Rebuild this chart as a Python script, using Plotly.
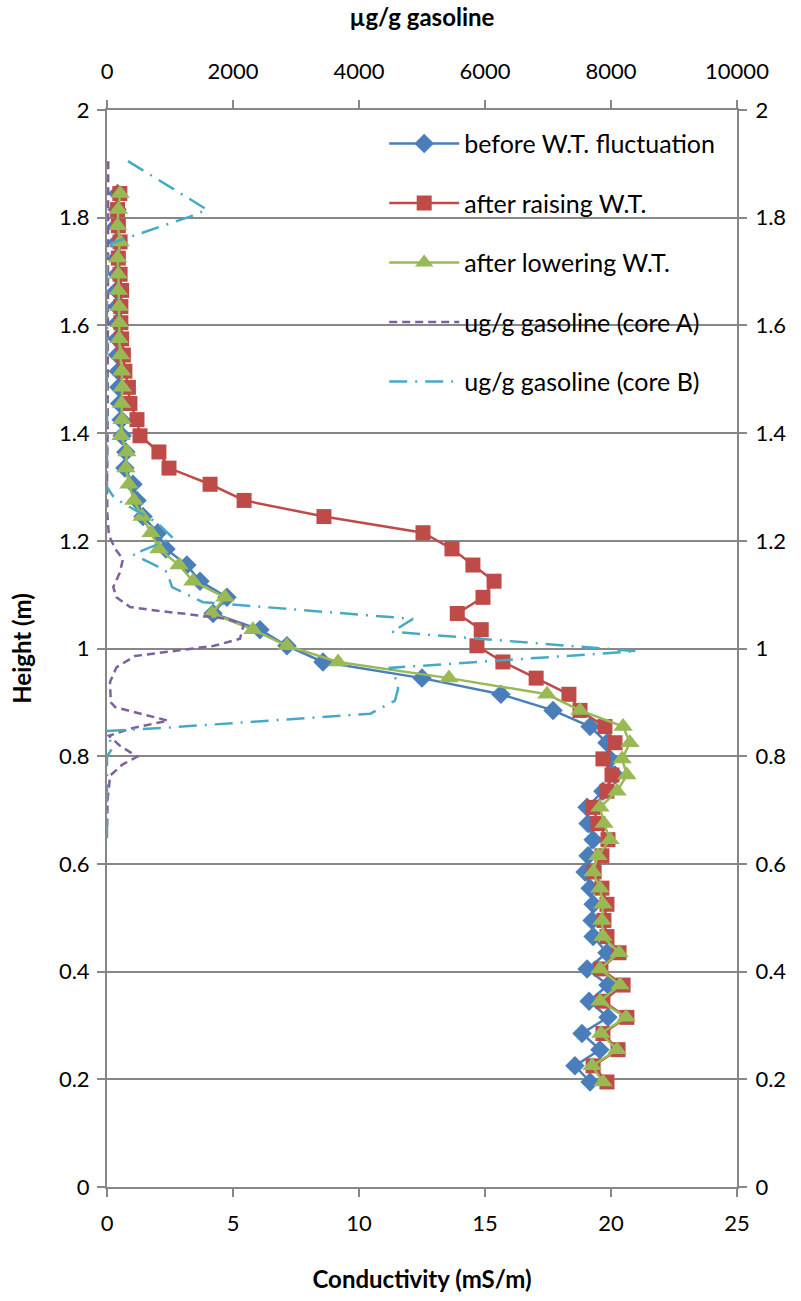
import plotly.graph_objects as go

# ---------------- data ----------------
heights = [0.195, 0.225, 0.255, 0.285, 0.315, 0.345, 0.375, 0.405, 0.435, 0.465,
           0.495, 0.525, 0.555, 0.585, 0.615, 0.645, 0.675, 0.705, 0.735, 0.765,
           0.795, 0.825, 0.855, 0.885, 0.915, 0.945, 0.975, 1.005, 1.035, 1.065,
           1.095, 1.125, 1.155, 1.185, 1.215, 1.245, 1.275, 1.305, 1.335, 1.365,
           1.395, 1.425, 1.455, 1.485, 1.515, 1.545, 1.575, 1.605, 1.635, 1.665,
           1.695, 1.725, 1.755, 1.785, 1.815, 1.845]

before_wt = [19.17, 18.57, 19.56, 18.85, 19.88, 19.13, 19.88, 19.05, 19.84, 19.29,
             19.25, 19.29, 19.17, 18.97, 19.09, 19.29, 19.09, 19.05, 19.68, 20.16,
             19.96, 19.84, 19.17, 17.70, 15.63, 12.50, 8.57, 7.14, 6.07, 4.21,
             4.76, 3.69, 3.17, 2.34, 2.02, 1.43, 1.19, 1.03, 0.71, 0.75,
             0.60, 0.56, 0.50, 0.47, 0.45, 0.42, 0.40, 0.42, 0.40, 0.38,
             0.40, 0.38, 0.40, 0.38, 0.40, 0.42]

after_raising = [19.84, 19.29, 20.28, 19.68, 20.63, 19.68, 20.48, 19.60, 20.32, 19.84,
                 19.72, 19.84, 19.64, 19.33, 19.64, 19.88, 19.48, 19.29, 19.84, 20.04,
                 19.68, 20.16, 19.76, 18.77, 18.33, 17.03, 15.71, 14.68, 14.85, 13.90,
                 14.92, 15.36, 14.52, 13.69, 12.54, 8.61, 5.44, 4.09, 2.46, 2.06,
                 1.31, 1.19, 0.91, 0.85, 0.71, 0.65, 0.58, 0.55, 0.55, 0.58,
                 0.52, 0.45, 0.52, 0.45, 0.42, 0.51]

after_lowering = [19.68, 19.25, 20.24, 19.60, 20.60, 19.56, 20.36, 19.56, 20.32, 19.68,
                  19.64, 19.68, 19.56, 19.29, 19.48, 19.96, 19.72, 19.56, 20.24, 20.63,
                  20.44, 20.75, 20.48, 18.77, 17.46, 13.57, 9.17, 7.14, 5.79, 4.17,
                  4.68, 3.41, 2.86, 2.06, 1.75, 1.39, 1.07, 0.87, 0.75, 0.79,
                  0.56, 0.60, 0.58, 0.61, 0.58, 0.54, 0.48, 0.49, 0.48, 0.45,
                  0.45, 0.42, 0.52, 0.42, 0.45, 0.52]

coreA_height = [1.905, 1.80, 1.60, 1.40, 1.30, 1.25, 1.21, 1.185, 1.166, 1.14,
                1.114, 1.095, 1.077, 1.07, 1.064, 1.055, 1.045, 1.018, 1.005, 0.999,
                0.986, 0.965, 0.938, 0.90, 0.891, 0.866, 0.852, 0.838, 0.82, 0.799,
                0.785, 0.764, 0.72, 0.665]
coreA_value = [20, 20, 10, 10, 0, 5, 30, 130, 254, 200,
               100, 150, 365, 800, 1270, 1900, 2170, 2111, 1700, 1317,
               444, 150, 48, 60, 130, 968, 400, 30, 200, 480,
               250, 50, 10, 0]

coreB_height = [1.905, 1.815, 1.802, 1.766, 1.753, 1.72, 1.30, 1.283, 1.271, 1.234,
                1.205, 1.175, 1.153, 1.142, 1.114, 1.086, 1.07, 1.055, 1.031, 0.995,
                0.964, 0.94, 0.925, 0.903, 0.879, 0.853, 0.847, 0.814, 0.799, 0.647]
coreB_value = [333, 1587, 1317, 413, 79, 0, 0, 95, 238, 794,
               1048, 413, 794, 952, 1032, 1524, 3175, 4857, 4524, 8413,
               4492, 4600, 4620, 4570, 4180, 952, 16, 79, 0, 0]

series_names = ["before W.T. fluctuation", "after raising W.T.", "after lowering W.T.",
                "ug/g gasoline (core A)", "ug/g gasoline (core B)"]

# ---------------- styling ----------------
BLUE = "#4A7EBB"
RED = "#BE4B48"
GREEN = "#98B954"
PURPLE = "#7D60A0"
CYAN = "#46AAC5"
GRID = "#878787"
FONT = "Lato"

fig = go.Figure()

fig.add_trace(go.Scatter(x=before_wt, y=heights, name=series_names[0], mode="lines+markers",
                         line=dict(color=BLUE, width=2.5),
                         marker=dict(symbol="diamond", size=15, color=BLUE),
                         legendgroup="a", xaxis="x", yaxis="y"))
fig.add_trace(go.Scatter(x=after_raising, y=heights, name=series_names[1], mode="lines+markers",
                         line=dict(color=RED, width=2.5),
                         marker=dict(symbol="square", size=15, color=RED),
                         legendgroup="b", xaxis="x", yaxis="y"))
fig.add_trace(go.Scatter(x=after_lowering, y=heights, name=series_names[2], mode="lines+markers",
                         line=dict(color=GREEN, width=2.5),
                         marker=dict(symbol="triangle-up", size=17, color=GREEN),
                         legendgroup="c", xaxis="x", yaxis="y"))
fig.add_trace(go.Scatter(x=coreA_value, y=coreA_height, name=series_names[3], mode="lines",
                         line=dict(color=PURPLE, width=2.5, dash="8px,5px"),
                         legendgroup="d", xaxis="x2", yaxis="y2"))
fig.add_trace(go.Scatter(x=coreB_value, y=coreB_height, name=series_names[4], mode="lines",
                         line=dict(color=CYAN, width=2.5, dash="18px,8px,2px,8px"),
                         legendgroup="e", xaxis="x2", yaxis="y2"))

tickfont = dict(family=FONT, size=22, color="black")
titlefont = dict(family=FONT, size=24, color="black", weight="bold")

fig.update_layout(
    width=801, height=1301,
    margin=dict(l=107, r=64, t=110, b=112),
    paper_bgcolor="white", plot_bgcolor="white",
    font=dict(family=FONT, size=22, color="black"),
    showlegend=True,
    legend=dict(x=0.44, y=0.99, xanchor="left", yanchor="top",
                bgcolor="rgba(0,0,0,0)", font=dict(family=FONT, size=25, color="black"),
                itemwidth=70, tracegroupgap=24),
    xaxis=dict(range=[0, 25], dtick=5, showgrid=False, zeroline=False,
               showline=True, linecolor=GRID, linewidth=2,
               ticks="outside", ticklen=8, tickwidth=2, tickcolor=GRID,
               tickfont=tickfont, ticklabelstandoff=8,
               title=dict(text="Conductivity (mS/m)", font=titlefont, standoff=36)),
    xaxis2=dict(range=[0, 10000], dtick=2000, tickformat="d", overlaying="x", side="top",
                showgrid=False, zeroline=False,
                showline=True, linecolor=GRID, linewidth=2,
                ticks="outside", ticklen=8, tickwidth=2, tickcolor=GRID,
                tickfont=tickfont, ticklabelstandoff=12,
                title=dict(text="µg/g gasoline", font=titlefont, standoff=24)),
    yaxis=dict(range=[0, 2], dtick=0.2, showgrid=True, gridcolor=GRID, gridwidth=2,
               zeroline=False, showline=True, linecolor=GRID, linewidth=2,
               ticks="outside", ticklen=8, tickwidth=2, tickcolor=GRID,
               tickfont=tickfont, ticklabelstandoff=3,
               title=dict(text="Height (m)", font=titlefont, standoff=20)),
    yaxis2=dict(range=[0, 2], dtick=0.2, overlaying="y", side="right",
                showgrid=False, zeroline=False, showline=True, linecolor=GRID, linewidth=2,
                ticks="outside", ticklen=8, tickwidth=2, tickcolor=GRID,
                tickfont=tickfont, ticklabelstandoff=4),
)

fig.write_html("out.html")
